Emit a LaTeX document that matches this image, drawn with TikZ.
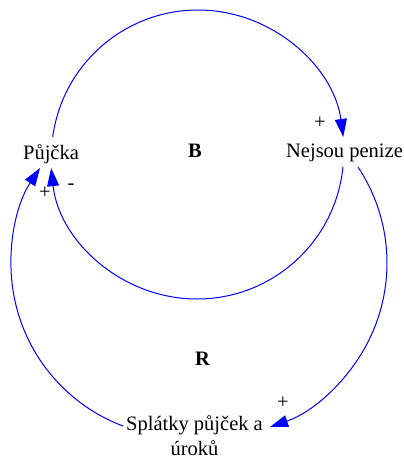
\documentclass[tikz,border=0pt]{standalone}
\usepackage{fontspec}
\setmainfont{Liberation Serif}
\newfontfamily\diagserif{Liberation Serif}
\usetikzlibrary{arrows.meta}
\begin{document}
\begin{tikzpicture}[x=1pt,y=-1pt,
  lbl/.style={inner sep=0pt, font=\diagserif\fontsize{20.5}{25}\selectfont, anchor=base, text=black},
  loopmark/.style={lbl, font=\diagserif\fontsize{20.5}{25}\selectfont\bfseries},
  sign/.style={inner sep=0pt, font=\diagserif\fontsize{20.5}{25}\selectfont, anchor=center, text=black},
  link/.style={draw=blue, line width=1pt, -{Triangle[length=18pt,width=12pt]}},
  ]
\useasboundingbox (0,0) rectangle (404,459);
\fill[white] (0,0) rectangle (404,459);

% variables
\node[lbl] (pujcka) at (51,159) {Půjčka};
\node[lbl] (nejsou) at (344.5,157) {Nejsou penize};
\node[lbl, align=center] (splatky) at (194.5,455) {Splátky půjček a\\úroků};

% loop markers
\node[loopmark] (B) at (195,157) {B};
\node[loopmark] (R) at (202.5,365) {R};

% arc centres
\coordinate (cTop) at (198,156.6);
\coordinate (cLow) at (197,152.3);
\coordinate (cRight) at (213.6,263);
\coordinate (cLeft) at (184.2,264);

% arc start points
\path (cTop) ++(172.3:146.6pt) coordinate (sTop);
\path (cLow) ++(-5.75:146.7pt) coordinate (sLow);
\path (cRight) ++(33.6:173.4pt) coordinate (sRight);
\path (cLeft) ++(249.3:173.2pt) coordinate (sLeft);

% connectors
\draw[link] (sTop) arc[start angle=172.3, end angle=7.7, radius=146.6pt];
\draw[link] (sLow) arc[start angle=-5.75, end angle=-173.8, radius=146.7pt];
\draw[link] (sRight) arc[start angle=33.6, end angle=-71.0, radius=173.4pt];
\draw[link] (sLeft) arc[start angle=249.3, end angle=146.35, radius=173.2pt];

% polarities
\node[sign] (p1) at (320,123) {+};
\node[sign] (p2) at (45,193) {+};
\node[sign] (m1) at (71,187) {-};
\node[sign] (p3) at (283,403) {+};
\end{tikzpicture}
\end{document}
